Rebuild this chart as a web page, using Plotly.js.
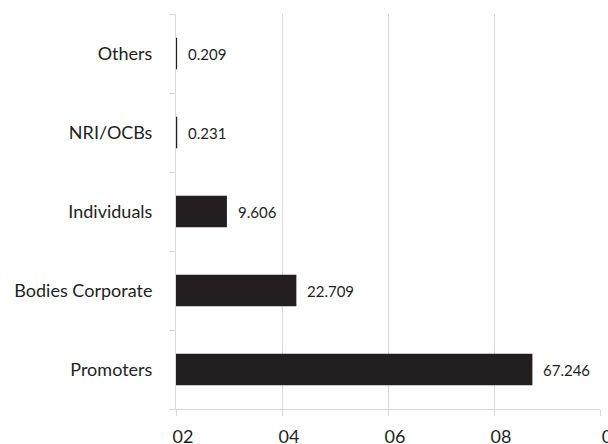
<!DOCTYPE html>
<html>
<head>
<meta charset="utf-8">
<script src="https://cdn.plot.ly/plotly-3.0.1.min.js"></script>
<style>html,body{margin:0;padding:0;background:#fff;}#chart{width:608px;height:444px;}</style>
</head>
<body>
<div id="chart"></div>
<script>
const categories = ["Promoters", "Bodies Corporate", "Individuals", "NRI/OCBs", "Others"];
const values = [67.246, 22.709, 9.606, 0.231, 0.209];
const valueLabels = ["67.246", "22.709", "9.606", "0.231", "0.209"];
const xTickValues = [0, 20, 40, 60, 80];
const xTickLabels = ["02", "04", "06", "08", "0"];

const FONT = "Lato, 'Open Sans', sans-serif";
const INK = "#231f20";
const GRID = "#d9d9d9";

const trace = {
  type: "bar",
  orientation: "h",
  x: values,
  y: categories,
  marker: { color: INK, line: { width: 0 } },
  hoverinfo: "none"
};

const annotations = values.map((v, i) => ({
  x: v, y: categories[i], xref: "x", yref: "y",
  text: valueLabels[i], showarrow: false,
  xanchor: "left", yanchor: "middle", xshift: 9,
  font: { family: FONT, size: 15, color: INK }
}));

const layout = {
  width: 608, height: 444,
  margin: { l: 176, r: 8, t: 14, b: 35, pad: 0 },
  paper_bgcolor: "#fff", plot_bgcolor: "#fff",
  showlegend: false,
  bargap: 0.6,
  font: { family: FONT, color: INK },
  xaxis: {
    range: [0, 80], tickvals: xTickValues, ticktext: xTickLabels,
    showgrid: true, gridcolor: GRID, gridwidth: 1,
    zeroline: false, showline: true, linecolor: GRID, linewidth: 1,
    ticks: "outside", ticklen: 6, tickcolor: GRID,
    ticklabelshift: 7, ticklabelstandoff: 5, ticklabeloverflow: "allow",
    tickfont: { family: FONT, size: 18, color: INK },
    automargin: false, fixedrange: true
  },
  yaxis: {
    type: "category", categoryorder: "array", categoryarray: categories,
    showgrid: false, zeroline: false, showline: true, linecolor: GRID, linewidth: 1,
    ticks: "outside", ticklen: 6, tickcolor: GRID, tickson: "boundaries",
    ticklabelstandoff: 19,
    tickfont: { family: FONT, size: 18, color: INK },
    automargin: false, fixedrange: true
  },
  annotations: annotations
};

Plotly.newPlot("chart", [trace], layout, { displayModeBar: false, staticPlot: true });
</script>
</body>
</html>
